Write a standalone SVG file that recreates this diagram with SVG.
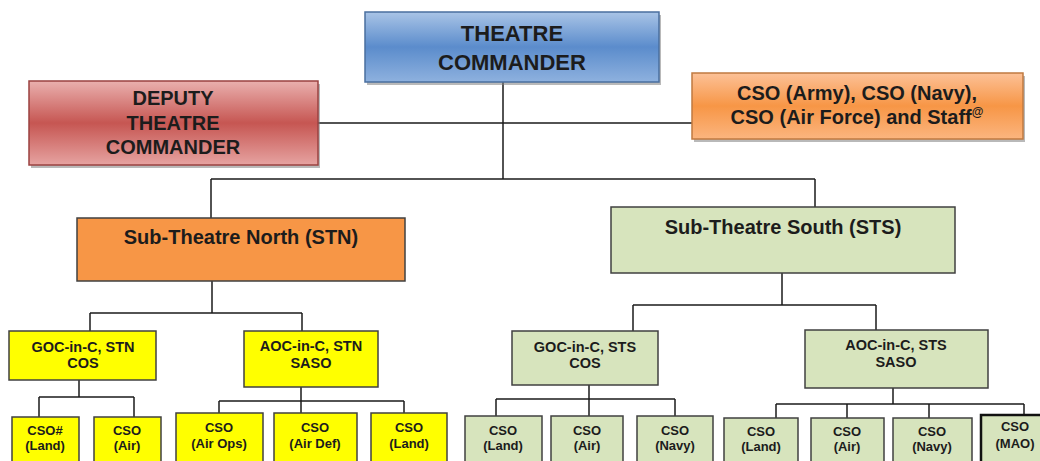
<svg xmlns="http://www.w3.org/2000/svg" width="1040" height="461" viewBox="0 0 1040 461">
<defs>
<linearGradient id="gBlue" x1="0" y1="0" x2="0" y2="1">
<stop offset="0" stop-color="#a9c4e6"/><stop offset="0.5" stop-color="#5b8ccc"/><stop offset="1" stop-color="#8eb1de"/>
</linearGradient>
<linearGradient id="gRed" x1="0" y1="0" x2="0" y2="1">
<stop offset="0" stop-color="#eab0ae"/><stop offset="0.5" stop-color="#c65652"/><stop offset="1" stop-color="#e6a3a1"/>
</linearGradient>
<linearGradient id="gOrange" x1="0" y1="0" x2="0" y2="1">
<stop offset="0" stop-color="#fcc197"/><stop offset="0.5" stop-color="#f79646"/><stop offset="1" stop-color="#fbb57f"/>
</linearGradient>
<style>
text{font-family:"Liberation Sans",Arial,sans-serif;font-weight:bold;fill:#1c1c1c;text-anchor:middle}
.shadow{fill:#7f7f7f;opacity:0.55}
.box{stroke:#404040;stroke-width:1.5}
.yel{fill:#ffff00;stroke:#404040;stroke-width:1.5}
.grn{fill:#d7e4bd;stroke:#404040;stroke-width:1.5}
.conn line{stroke:#1a1a1a;stroke-width:1.5}
.t22{font-size:22px}.t20{font-size:20px}.t14{font-size:14.5px}.t13{font-size:13px}
</style>
</defs>
<rect width="1040" height="461" fill="#ffffff"/>
<g class="conn">
<line x1="503" y1="82" x2="503" y2="179"/>
<line x1="318" y1="123" x2="692" y2="123"/>
<line x1="211" y1="179" x2="815" y2="179"/>
<line x1="211" y1="179" x2="211" y2="218"/>
<line x1="815" y1="179" x2="815" y2="207"/>
<line x1="212" y1="281" x2="212" y2="313"/>
<line x1="90" y1="313" x2="302" y2="313"/>
<line x1="90" y1="313" x2="90" y2="331"/>
<line x1="302" y1="313" x2="302" y2="331"/>
<line x1="782" y1="273" x2="782" y2="305"/>
<line x1="633" y1="305" x2="876" y2="305"/>
<line x1="633" y1="305" x2="633" y2="331"/>
<line x1="876" y1="305" x2="876" y2="330"/>
<line x1="79" y1="380" x2="79" y2="397"/>
<line x1="39" y1="397" x2="134" y2="397"/>
<line x1="39" y1="397" x2="39" y2="417"/>
<line x1="134" y1="397" x2="134" y2="417"/>
<line x1="219" y1="401" x2="404" y2="401"/>
<line x1="301" y1="387" x2="301" y2="413"/>
<line x1="219" y1="401" x2="219" y2="413"/>
<line x1="404" y1="401" x2="404" y2="413"/>
<line x1="589" y1="385" x2="589" y2="416"/>
<line x1="496" y1="399" x2="675" y2="399"/>
<line x1="496" y1="399" x2="496" y2="416"/>
<line x1="675" y1="399" x2="675" y2="416"/>
<line x1="893" y1="388" x2="893" y2="404"/>
<line x1="776" y1="404" x2="1024" y2="404"/>
<line x1="776" y1="404" x2="776" y2="418"/>
<line x1="847" y1="404" x2="847" y2="418"/>
<line x1="929" y1="404" x2="929" y2="418"/>
<line x1="1024" y1="404" x2="1024" y2="415"/>
</g>
<g id="theatre-commander">
<rect class="shadow" x="367" y="15" width="294" height="70"/>
<rect x="365" y="12" width="294" height="70" fill="url(#gBlue)" stroke="#4a6f9f" stroke-width="1.5"/>
<text class="t22" x="512" y="41">THEATRE</text>
<text class="t22" x="512" y="70">COMMANDER</text>
</g>
<g id="deputy-theatre-commander">
<rect class="shadow" x="31" y="84" width="289" height="84"/>
<rect x="29" y="81" width="289" height="84" fill="url(#gRed)" stroke="#9a4240" stroke-width="1.5"/>
<text class="t20" x="173" y="105">DEPUTY</text>
<text class="t20" x="173" y="130">THEATRE</text>
<text class="t20" x="173" y="154">COMMANDER</text>
</g>
<g id="cso-staff">
<rect class="shadow" x="694" y="76" width="331" height="66"/>
<rect x="692" y="73" width="331" height="66" fill="url(#gOrange)" stroke="#c07a40" stroke-width="1.5"/>
<text class="t20" x="857" y="100">CSO (Army), CSO (Navy),</text>
<text class="t20" x="857" y="124">CSO (Air Force) and Staff<tspan font-size="12" dy="-8">@</tspan></text>
</g>
<g id="stn">
<rect class="box" x="77" y="218" width="328" height="63" fill="#f79646"/>
<text class="t20" x="241" y="244">Sub-Theatre North (STN)</text>
</g>
<g id="sts">
<rect class="grn" x="611" y="207" width="344" height="66"/>
<text class="t20" x="783" y="234">Sub-Theatre South (STS)</text>
</g>
<g id="goc-stn">
<rect class="yel" x="9" y="331" width="147" height="49"/>
<text class="t14" x="83" y="352">GOC-in-C, STN</text>
<text class="t14" x="83" y="368">COS</text>
</g>
<g id="aoc-stn">
<rect class="yel" x="244" y="331" width="134" height="56"/>
<text class="t14" x="311" y="351">AOC-in-C, STN</text>
<text class="t14" x="311" y="368">SASO</text>
</g>
<g id="goc-sts">
<rect class="grn" x="512" y="331" width="146" height="54"/>
<text class="t14" x="585" y="352">GOC-in-C, STS</text>
<text class="t14" x="585" y="368">COS</text>
</g>
<g id="aoc-sts">
<rect class="grn" x="805" y="330" width="183" height="58"/>
<text class="t14" x="896" y="350">AOC-in-C, STS</text>
<text class="t14" x="896" y="367">SASO</text>
</g>
<g id="stn-cso-land-goc">
<rect class="yel" x="12" y="417" width="67" height="55"/>
<text class="t13" x="45" y="435">CSO#</text>
<text class="t13" x="45" y="450">(Land)</text>
</g>
<g id="stn-cso-air-goc">
<rect class="yel" x="94" y="417" width="67" height="55"/>
<text class="t13" x="127" y="435">CSO</text>
<text class="t13" x="127" y="450">(Air)</text>
</g>
<g id="stn-cso-airops">
<rect class="yel" x="176" y="413" width="87" height="59"/>
<text class="t13" x="219" y="432">CSO</text>
<text class="t13" x="219" y="448">(Air Ops)</text>
</g>
<g id="stn-cso-airdef">
<rect class="yel" x="274" y="413" width="83" height="59"/>
<text class="t13" x="315" y="432">CSO</text>
<text class="t13" x="315" y="448">(Air Def)</text>
</g>
<g id="stn-cso-land-aoc">
<rect class="yel" x="371" y="413" width="76" height="59"/>
<text class="t13" x="409" y="432">CSO</text>
<text class="t13" x="409" y="448">(Land)</text>
</g>
<g id="sts-cso-land-goc">
<rect class="grn" x="465" y="416" width="77" height="56"/>
<text class="t13" x="503" y="435">CSO</text>
<text class="t13" x="503" y="450">(Land)</text>
</g>
<g id="sts-cso-air-goc">
<rect class="grn" x="551" y="416" width="72" height="56"/>
<text class="t13" x="587" y="435">CSO</text>
<text class="t13" x="587" y="450">(Air)</text>
</g>
<g id="sts-cso-navy-goc">
<rect class="grn" x="637" y="416" width="76" height="56"/>
<text class="t13" x="675" y="435">CSO</text>
<text class="t13" x="675" y="450">(Navy)</text>
</g>
<g id="sts-cso-land-aoc">
<rect class="grn" x="724" y="418" width="74" height="54"/>
<text class="t13" x="761" y="436">CSO</text>
<text class="t13" x="761" y="451">(Land)</text>
</g>
<g id="sts-cso-air-aoc">
<rect class="grn" x="811" y="418" width="73" height="54"/>
<text class="t13" x="847" y="436">CSO</text>
<text class="t13" x="847" y="451">(Air)</text>
</g>
<g id="sts-cso-navy-aoc">
<rect class="grn" x="893" y="418" width="79" height="54"/>
<text class="t13" x="932" y="436">CSO</text>
<text class="t13" x="932" y="451">(Navy)</text>
</g>
<g id="sts-cso-mao">
<rect x="981" y="415" width="70" height="57" fill="#d7e4bd" stroke="#111111" stroke-width="2.5"/>
<text class="t13" x="1015" y="431">CSO</text>
<text class="t13" x="1015" y="448">(MAO)</text>
</g>
</svg>
